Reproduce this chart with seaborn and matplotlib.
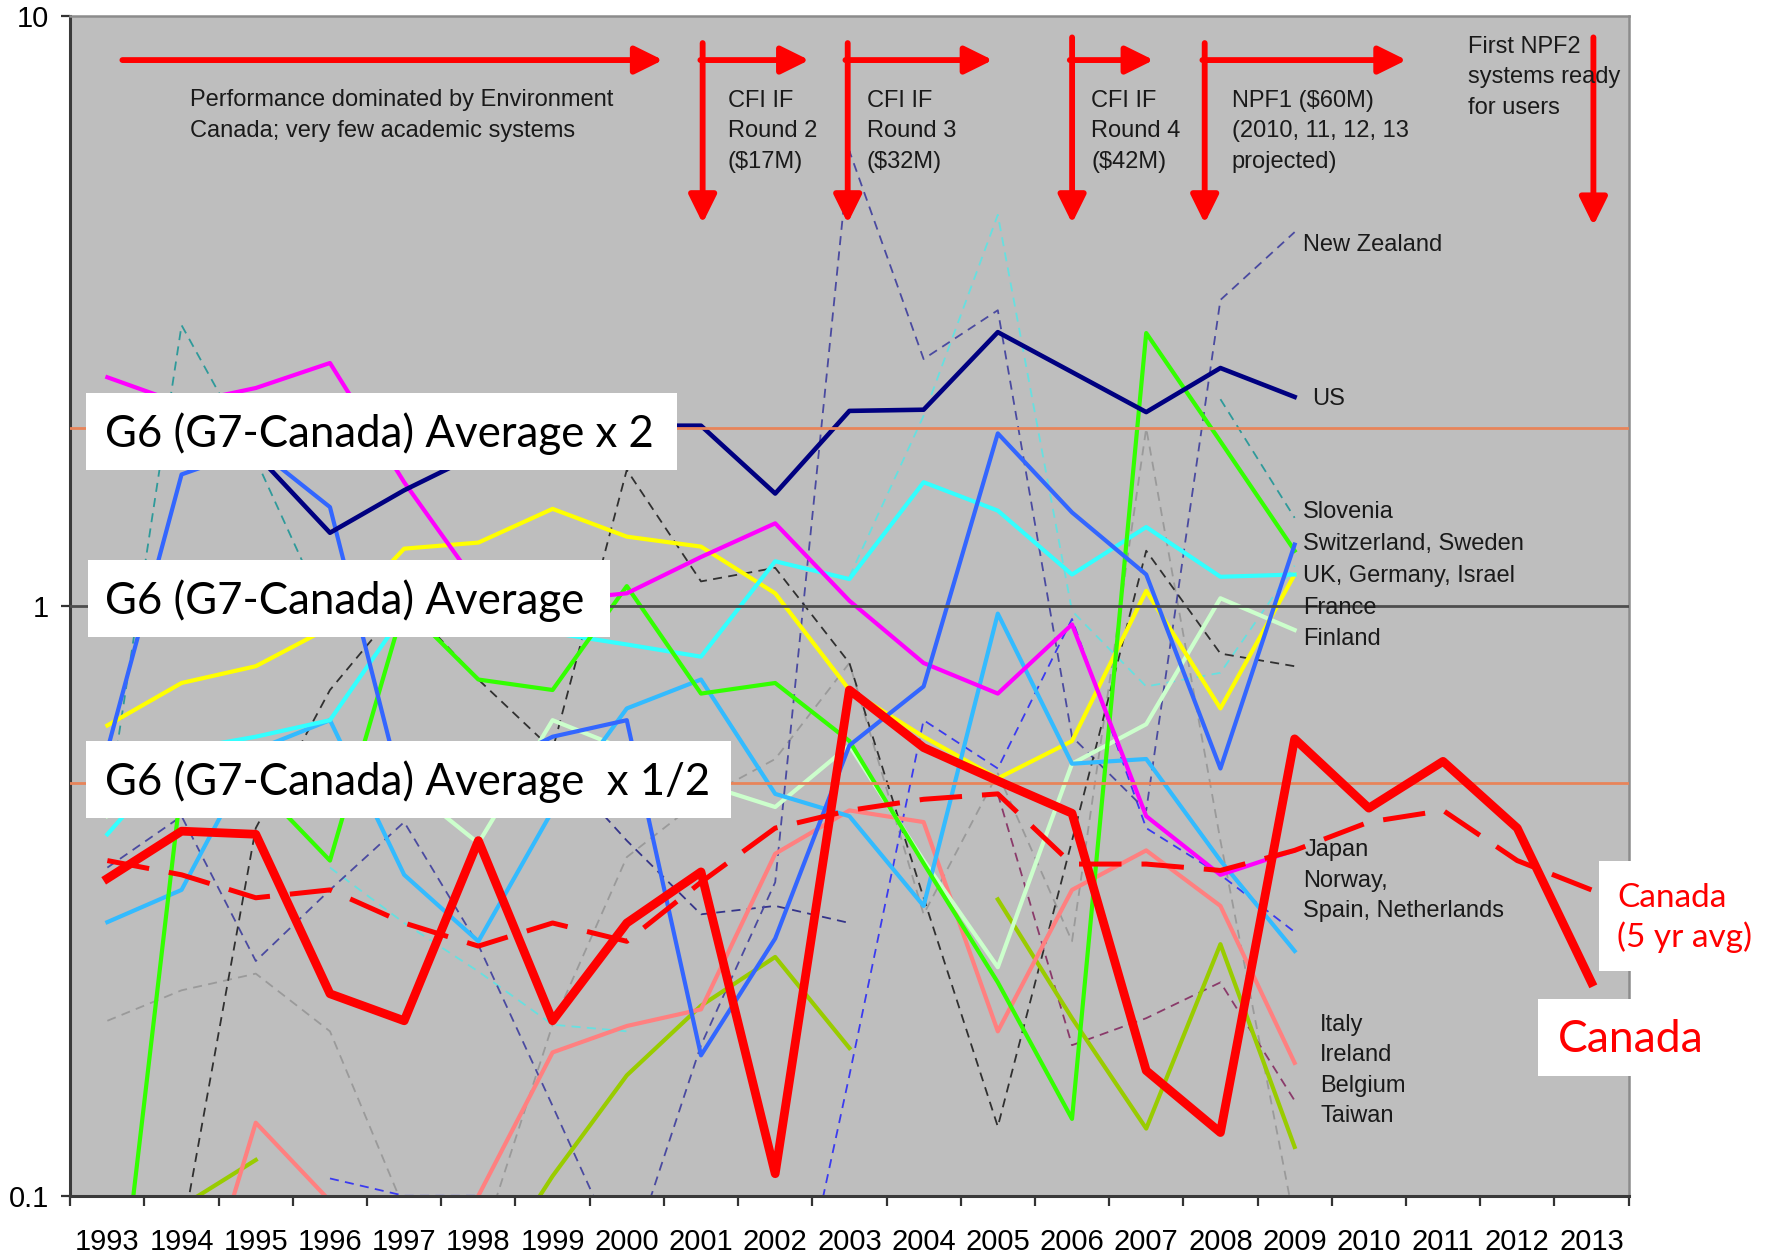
"""Canadian HPC performance relative to the G6 average, 1993-2013."""

import matplotlib
matplotlib.use("Agg")
import matplotlib.pyplot as plt
import numpy as np
import pandas as pd
import seaborn as sns
from matplotlib.patches import Rectangle

nan = np.nan

YEARS = list(range(1993, 2010))
YEARS_CANADA = list(range(1993, 2014))
G6_LEVELS = [2.0, 1.0, 0.5]

# solid country lines, 1993-2009 (ratio to G6 average)
US = [2.0, 1.95, 1.81, 1.33, 1.57, 1.81, 1.95, 2.02, 2.02, 1.55, 2.14, 2.15, 2.91, 2.49, 2.13, 2.53, 2.26]
JAPAN = [2.44, 2.2, 2.34, 2.58, 1.62, 1.08, 1.02, 1.05, 1.21, 1.38, 1.02, 0.80, 0.71, 0.93, 0.44, 0.35, 0.385]
YELLOW = [0.627, 0.74, 0.79, 0.92, 1.25, 1.28, 1.46, 1.31, 1.26, 1.05, 0.72, 0.60, 0.51, 0.59, 1.06, 0.67, 1.13]
CYAN = [0.41, 0.57, 0.60, 0.64, 0.97, 0.93, 0.90, 0.86, 0.82, 1.19, 1.11, 1.62, 1.45, 1.13, 1.36, 1.12, 1.13]
SKYBLUE = [0.291, 0.33, 0.57, 0.64, 0.35, 0.27, 0.45, 0.67, 0.75, 0.48, 0.44, 0.31, 0.97, 0.54, 0.55, 0.37, 0.26]
ROYALBLUE = [0.57, 1.67, 1.85, 1.47, 0.47, 0.52, 0.60, 0.64, 0.173, 0.273, 0.58, 0.73, 1.96, 1.44, 1.13, 0.53, 1.27]
GREEN = [0.042, 0.50, 0.50, 0.37, 1.0, 0.75, 0.72, 1.08, 0.71, 0.74, 0.59, 0.366, 0.23, 0.135, 2.9, 1.9, 1.24]
PALEGREEN = [0.44, 0.50, 0.45, 0.50, 0.50, 0.396, 0.64, 0.57, 0.50, 0.456, 0.58, 0.37, 0.244, 0.54, 0.63, 1.03, 0.91]
PINK = [nan, 0.051, 0.133, 0.098, 0.075, 0.10, 0.175, 0.194, 0.207, 0.38, 0.45, 0.43, 0.19, 0.33, 0.385, 0.31, 0.168]
YELLOWGREEN = [nan, 0.096, 0.115, nan, nan, 0.069, 0.108, 0.16, 0.21, 0.254, 0.178, nan, 0.318, 0.20, 0.13, 0.267, 0.121]

# thin dashed country lines, 1993-2009
NZ = [0.36, 0.44, 0.25, 0.33, 0.43, 0.266, 0.142, 0.075, 0.18, 0.34, 5.9, 2.62, 3.17, 0.6, 0.45, 3.3, 4.3]
BLACK_DASH = [nan, 0.085, 0.42, 0.72, 1.02, 0.75, 0.57, 1.7, 1.1, 1.16, 0.80, 0.32, 0.131, 0.40, 1.24, 0.83, 0.79]
GRAY_DASH = [0.198, 0.223, 0.238, 0.19, 0.095, 0.08, 0.195, 0.375, 0.47, 0.55, 0.80, 0.30, 0.52, 0.27, 2.0, 0.40, 0.09]
LIGHTCYAN_DASH = [nan, nan, nan, 0.36, 0.29, 0.24, 0.195, 0.19, nan, nan, 1.12, 2.1, 4.6, 0.98, 0.73, 0.77, 1.17]
TEAL_DASH = [0.45, 2.99, 1.77, 0.94, nan, nan, nan, nan, nan, nan, nan, nan, nan, nan, nan, 2.24, 1.41]
BLUE_DASH = [nan, nan, nan, 0.107, 0.10, 0.10, 0.07, 0.06, 0.06, 0.042, 0.16, 0.64, 0.53, 0.95, 0.42, 0.35, 0.28]
SLATE_DASH = [nan, nan, nan, nan, nan, nan, 0.55, 0.40, 0.30, 0.31, 0.29, nan, nan, nan, nan, nan, nan]
PURPLE_DASH = [nan, nan, nan, nan, nan, nan, nan, nan, nan, nan, nan, nan, 0.48, 0.18, 0.20, 0.23, 0.145]

# Canada, 1993-2013 (2010-2013 projected)
CANADA = [0.345, 0.415, 0.41, 0.22, 0.198, 0.40, 0.198, 0.29, 0.354, 0.109, 0.72, 0.575, 0.505, 0.445,
          0.163, 0.128, 0.595, 0.454, 0.545, 0.42, 0.23]
CANADA_5YR = [0.37, 0.35, 0.32, 0.33, 0.29, 0.265, 0.29, 0.27, 0.34, 0.42, 0.45, 0.47, 0.48, 0.365,
              0.365, 0.356, 0.385, 0.43, 0.45, 0.37, 0.33]

RIGHT_LABELS = [
    ("New Zealand", 1150, 216), ("US", 1158, 352),
    ("Slovenia", 1150, 452), ("Switzerland, Sweden", 1150, 480), ("UK, Germany, Israel", 1150, 508),
    ("France", 1150, 536), ("Finland", 1150, 564),
    ("Japan", 1151, 750), ("Norway,", 1150, 777), ("Spain, Netherlands", 1150, 804),
    ("Italy", 1165, 904), ("Ireland", 1165, 931), ("Belgium", 1165, 958), ("Taiwan", 1165, 985),
]

W, H = 1568, 1109  # layout grid (reference pixels)
AX_L, AX_R, AX_T, AX_B = 62, 1437, 14, 1055


def ax_xy(px, py):
    return (px - AX_L) / (AX_R - AX_L), (AX_B - py) / (AX_B - AX_T)


def fig_xy(px, py):
    return px / W, 1 - py / H


def draw_series(ax, values, years, color, lw, dashes=None, z=2):
    df = pd.DataFrame({"year": years, "value": values})
    df["segment"] = df["value"].isna().cumsum()
    df = df.dropna()
    for _, seg in df.groupby("segment"):
        if len(seg) < 2:
            continue
        kws = {"color": color, "linewidth": lw, "zorder": z}
        if dashes is not None:
            kws["linestyle"] = (0, dashes)
        sns.lineplot(data=seg, x="year", y="value", ax=ax, estimator=None, sort=False, **kws)


def red_arrow(ax, x0, y0, x1, y1):
    ax.annotate("", xy=ax_xy(x1, y1), xytext=ax_xy(x0, y0),
                xycoords="axes fraction", textcoords="axes fraction",
                arrowprops=dict(arrowstyle="-|>,head_length=0.85,head_width=0.42", color="#ff0000",
                                lw=4.2, shrinkA=0, shrinkB=0, mutation_scale=20),
                zorder=8, annotation_clip=False)


def box_label(fig, x0, y0, x1, y1, text, tx, ty, size, color="black", spacing=1.12):
    fx, fy = fig_xy(x0, y1)
    fig.add_artist(Rectangle((fx, fy), (x1 - x0) / W, (y1 - y0) / H, transform=fig.transFigure,
                             facecolor="white", edgecolor="none", zorder=5))
    fig.text(*fig_xy(tx, ty), text, fontsize=size, color=color, family="Lato",
             ha="left", va="center", zorder=6, linespacing=spacing)


fig = plt.figure(figsize=(17.77, 12.57), dpi=100)
ax = fig.add_axes([AX_L / W, 1 - AX_B / H, (AX_R - AX_L) / W, (AX_B - AX_T) / H])
ax.set_facecolor("#bebebe")
ax.set_yscale("log")

thin = 1.3
draw_series(ax, GRAY_DASH, YEARS, "#9a9a9a", thin, (5, 3.5))
draw_series(ax, LIGHTCYAN_DASH, YEARS, "#66e0e0", thin, (5, 3.5))
draw_series(ax, TEAL_DASH, YEARS, "#2e9a9a", thin, (5, 3.5))
draw_series(ax, PURPLE_DASH, YEARS, "#8a3a6a", thin, (5, 3.5))
draw_series(ax, SLATE_DASH, YEARS, "#34348a", thin, (5, 3.5))
draw_series(ax, BLUE_DASH, YEARS, "#3a3af0", thin, (5, 3.5))
draw_series(ax, NZ, YEARS, "#4a4aa0", thin, (5, 3.5))
draw_series(ax, BLACK_DASH, YEARS, "#303030", thin, (5, 3.5))

thick = 3.0
draw_series(ax, YELLOWGREEN, YEARS, "#99cc00", thick)
draw_series(ax, PINK, YEARS, "#ff8080", thick)
draw_series(ax, PALEGREEN, YEARS, "#ccffcc", thick)
draw_series(ax, YELLOW, YEARS, "#ffff00", thick)
draw_series(ax, SKYBLUE, YEARS, "#33bbff", thick)
draw_series(ax, CYAN, YEARS, "#33ffff", thick)
draw_series(ax, GREEN, YEARS, "#33ff00", thick)
draw_series(ax, JAPAN, YEARS, "#ff00ff", thick)
draw_series(ax, ROYALBLUE, YEARS, "#3366ff", thick)
draw_series(ax, US, YEARS, "#000080", 3.3)

for level in G6_LEVELS:
    ax.axhline(level, color="#4d4d4d" if level == 1 else "#e8845a", lw=2, zorder=4)

draw_series(ax, CANADA_5YR, YEARS_CANADA, "#ff0000", 3.6, (8.5, 4), z=5)
draw_series(ax, CANADA, YEARS_CANADA, "#ff0000", 6.3, z=5)

ax.set_xlim(1992.5, 2013.5)
ax.set_ylim(0.1, 10)
ax.set_xlabel("")
ax.set_ylabel("")
ax.set_xticks(YEARS_CANADA)
ax.set_xticklabels([str(y) for y in YEARS_CANADA])
ax.set_xticks(np.arange(1992.5, 2014, 1.0), minor=True)
ax.set_yticks([0.1, 1, 10])
ax.set_yticklabels(["0.1", "1", "10"])
ax.yaxis.set_minor_locator(matplotlib.ticker.NullLocator())
ax.tick_params(axis="x", which="major", length=0, pad=23, labelsize=21)
ax.tick_params(axis="x", which="minor", length=7, width=1.6, color="#333333", direction="out")
ax.tick_params(axis="y", which="major", length=6.5, width=1.6, color="#333333", pad=9, labelsize=21)
for lab in ax.get_xticklabels() + ax.get_yticklabels():
    lab.set_family("Liberation Sans")
for side in ("left", "bottom"):
    ax.spines[side].set_color("#3a3a3a")
    ax.spines[side].set_linewidth(2.2)
for side in ("top", "right"):
    ax.spines[side].set_color("#8c8c8c")
    ax.spines[side].set_linewidth(1.8)

# funding-period arrows
red_arrow(ax, 108, 53, 585, 53)
for vx, vtop, hx in [(620, 38, 714), (748, 38, 876), (946, 33, 1018), (1063, 38, 1241)]:
    red_arrow(ax, vx, vtop, vx, 197)
    red_arrow(ax, vx - 2, 53, hx, 53)
red_arrow(ax, 1406, 33, 1406, 199)

note = dict(transform=ax.transAxes, fontsize=17, family="Liberation Sans", color="#1a1a1a",
            ha="left", va="center", linespacing=1.5, zorder=9)
ax.text(*ax_xy(168, 102), "Performance dominated by Environment\nCanada; very few academic systems", **note)
ax.text(*ax_xy(642, 116), "CFI IF\nRound 2\n($17M)", **note)
ax.text(*ax_xy(765, 116), "CFI IF\nRound 3\n($32M)", **note)
ax.text(*ax_xy(963, 116), "CFI IF\nRound 4\n($42M)", **note)
ax.text(*ax_xy(1087, 116), "NPF1 ($60M)\n(2010, 11, 12, 13\nprojected)", **note)
ax.text(*ax_xy(1295, 68), "First NPF2\nsystems ready\nfor users", **note)
for label, px, py in RIGHT_LABELS:
    ax.text(*ax_xy(px, py), label, **note)

box_label(fig, 76, 347, 597, 415, "G6 (G7-Canada) Average x 2", 93, 383, 31.5)
box_label(fig, 78, 494, 538, 562, "G6 (G7-Canada) Average", 93, 530, 31.5)
box_label(fig, 76, 654, 645, 722, "G6 (G7-Canada) Average  x 1/2", 93, 690, 31.5)
box_label(fig, 1411, 760, 1556, 857, "Canada\n(5 yr avg)", 1427, 810, 24, color="#ff0000", spacing=1.3)
box_label(fig, 1357, 881, 1568, 949, "Canada", 1375, 917, 32, color="#ff0000")

fig.savefig("out.png", dpi=100, facecolor="white")
